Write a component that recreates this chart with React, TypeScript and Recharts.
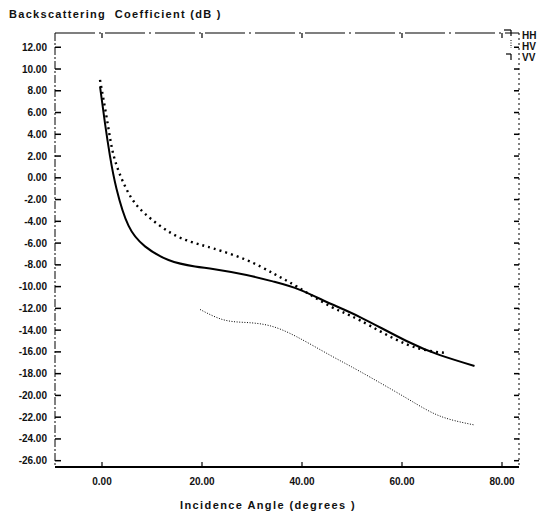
import React from "react";
import { LineChart, Line, XAxis, YAxis, Label } from "recharts";

const hhAngles = [-0.4, 0.6, 1.6, 2.9, 5.3, 8.6, 13.3, 18.6, 22.5, 28.9, 34.3, 39.6, 45.6, 51.6, 60.9, 67.6, 74.5];
const hhValues = [8.4, 5.0, 2.0, -1.0, -4.4, -6.3, -7.55, -8.15, -8.4, -8.93, -9.54, -10.3, -11.55, -12.8, -15.0, -16.3, -17.3];

const vvAngles = [-0.4, 1.2, 2.6, 5.3, 8.6, 13.9, 18.6, 22.3, 28.9, 34.3, 39.0, 45.6, 51.6, 60.9, 68.8];
const vvValues = [9.0, 4.8, 1.6, -1.4, -3.3, -5.1, -6.0, -6.5, -7.55, -8.8, -10.0, -11.8, -13.1, -15.3, -16.1];

const hvAngles = [19.6, 24.3, 28.9, 33.6, 38.9, 45.6, 51.6, 60.9, 67.6, 74.3];
const hvValues = [-12.1, -13.05, -13.3, -13.6, -14.6, -16.3, -17.8, -20.25, -21.9, -22.7];

const xTicks = [0, 20, 40, 60, 80];
const yTicks = [12, 10, 8, 6, 4, 2, 0, -2, -4, -6, -8, -10, -12, -14, -16, -18, -20, -22, -24, -26];
const legendLabels = ["HH", "HV", "VV"];
const titleText = "Backscattering  Coefficient (dB )";
const xTitle = "Incidence  Angle (degrees )";

const toPoints = (xs: number[], ys: number[]) => xs.map((a, i) => ({ angle: a, value: ys[i] }));
const hhData = toPoints(hhAngles, hhValues);
const vvData = toPoints(vvAngles, vvValues);
const hvData = toPoints(hvAngles, hvValues);

const FONT = "'Liberation Sans', Arial, sans-serif";
const tickStyle = { fontSize: 10, fontWeight: 700, fill: "#111", fontFamily: FONT };
const fmt = (v: number) => v.toFixed(2);
const Empty = () => <g />;

export default function App() {
  return (
    <div style={{ position: "absolute", left: 0, top: 0, width: 539, height: 513, background: "#fff", fontFamily: FONT }}>
      <div style={{ position: "absolute", left: 9, top: 8, fontSize: 11, fontWeight: 700, color: "#111", whiteSpace: "pre", letterSpacing: 1.3 }}>
        {titleText}
      </div>
      <LineChart width={539} height={513} margin={{ top: 32, right: 19, bottom: 0, left: 0 }}>
        <XAxis
          dataKey="angle"
          type="number"
          domain={[-9.4, 83.4]}
          ticks={xTicks}
          allowDataOverflow
          height={46}
          tickSize={-5}
          tickMargin={16}
          tickFormatter={fmt}
          tick={tickStyle}
          axisLine={{ stroke: "#000", strokeWidth: 2 }}
          tickLine={{ stroke: "#000", strokeWidth: 1.2 }}
        >
          <Label value={xTitle} position="insideBottom" offset={4} dx={-19} style={{ fontSize: 11, fontWeight: 700, fill: "#111", fontFamily: FONT, whiteSpace: "pre", letterSpacing: 1.4 }} />
        </XAxis>
        <XAxis
          xAxisId="top"
          orientation="top"
          dataKey="angle"
          type="number"
          domain={[-9.4, 83.4]}
          ticks={xTicks}
          allowDataOverflow
          height={1}
          tickSize={-5}
          tick={Empty}
          axisLine={{ stroke: "#000", strokeWidth: 1.2, strokeDasharray: "40 4 2 4" }}
          tickLine={{ stroke: "#000", strokeWidth: 1.2 }}
        />
        <YAxis
          type="number"
          domain={[-26.58, 13.31]}
          ticks={yTicks}
          allowDataOverflow
          width={55}
          tickSize={-6}
          tickMargin={14}
          tickFormatter={fmt}
          tick={tickStyle}
          interval={0}
          axisLine={{ stroke: "#000", strokeWidth: 1, strokeDasharray: "8 2 2 2" }}
          tickLine={{ stroke: "#000", strokeWidth: 1.5 }}
        />
        <YAxis
          yAxisId="right"
          orientation="right"
          type="number"
          domain={[-26.58, 13.31]}
          ticks={yTicks}
          allowDataOverflow
          width={1}
          tickSize={-5}
          tick={Empty}
          interval={0}
          axisLine={{ stroke: "#000", strokeWidth: 1, strokeDasharray: "2 3" }}
          tickLine={{ stroke: "#000", strokeWidth: 1.5 }}
        />
        <Line data={hhData} dataKey="value" type="natural" stroke="#000" strokeWidth={2} dot={false} isAnimationActive={false} />
        <Line data={vvData} dataKey="value" type="natural" stroke="#000" strokeWidth={2.4} strokeDasharray="2 4" dot={false} isAnimationActive={false} />
        <Line data={hvData} dataKey="value" type="natural" stroke="#000" strokeWidth={1} strokeDasharray="1 1.6" dot={false} isAnimationActive={false} />
      </LineChart>
      <svg style={{ position: "absolute", left: 500, top: 26 }} width={39} height={40}>
        <line x1={4} x2={11} y1={4} y2={4} stroke="#000" strokeWidth={1.2} />
        <line x1={11} x2={11} y1={4} y2={10} stroke="#000" strokeWidth={1.2} />
        <line x1={11} x2={11} y1={14} y2={22} stroke="#000" strokeWidth={1} strokeDasharray="1 1.5" />
        <line x1={6} x2={11} y1={28} y2={28} stroke="#000" strokeWidth={1.2} />
        <line x1={11} x2={11} y1={28} y2={34} stroke="#000" strokeWidth={1.2} />
        {legendLabels.map((t, i) => (
          <text key={t} x={22} y={13 + i * 11} fontSize={10} fontWeight={700} fill="#111" fontFamily={FONT}>
            {t}
          </text>
        ))}
      </svg>
    </div>
  );
}
